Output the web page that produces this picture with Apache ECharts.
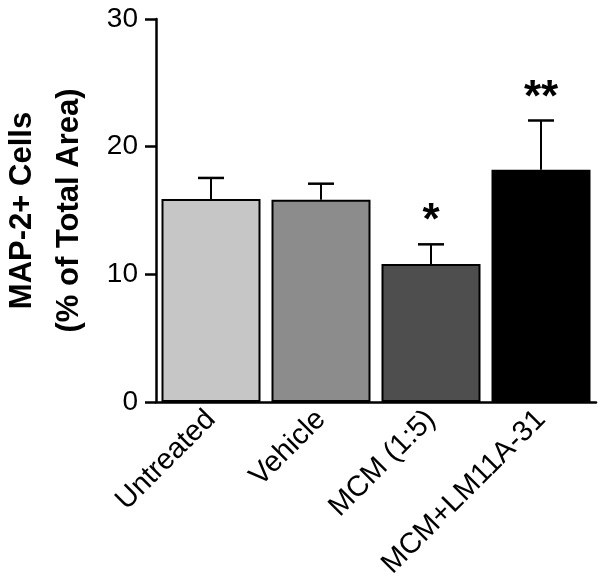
<!DOCTYPE html>
<html>
<head>
<meta charset="utf-8">
<script src="https://cdn.jsdelivr.net/npm/echarts@6/dist/echarts.min.js"></script>
<style>
  html, body { margin: 0; padding: 0; background: #fff; }
  #chart { width: 604px; height: 578px; }
</style>
</head>
<body>
<div id="chart"></div>
<script>
// 数据
const categories = ['Untreated', 'Vehicle', 'MCM (1:5)', 'MCM+LM11A-31'];
const means = [15.9, 15.85, 10.8, 18.2];
const errors = [1.65, 1.25, 1.55, 3.85];
const stars = ['', '', '*', '**'];
const barColors = ['#c6c6c6', '#8c8c8c', '#4e4e4e', '#000000'];
const yTicks = [0, 10, 20, 30];

document.addEventListener('DOMContentLoaded', function() {
    const chart = echarts.init(document.getElementById('chart'));
    const font = 'Liberation Sans, Arial, sans-serif';

    chart.setOption({
        animation: false,
        grid: {
            left: 156,
            right: 8,
            top: 19,
            bottom: 176,
            containLabel: false,
            outerBoundsMode: 'none'
        },
        xAxis: {
            type: 'category',
            data: categories,
            axisLine: { lineStyle: { color: '#000', width: 2.5 } },
            axisTick: { show: false },
            axisLabel: {
                rotate: 45,
                interval: 0,
                margin: 13,
                fontSize: 29,
                color: '#000',
                fontFamily: font
            }
        },
        yAxis: {
            type: 'value',
            min: yTicks[0],
            max: yTicks[yTicks.length - 1],
            interval: 10,
            name: 'MAP-2+ Cells\n(% of Total Area)',
            nameLocation: 'middle',
            nameGap: 63,
            nameTextStyle: {
                fontSize: 31,
                fontWeight: 'bold',
                color: '#000',
                fontFamily: font,
                lineHeight: 47
            },
            axisLine: { show: true, lineStyle: { color: '#000', width: 2.5 } },
            axisTick: { show: true, length: 11, lineStyle: { color: '#000', width: 2.5 } },
            splitLine: { show: false },
            axisLabel: {
                margin: 18,
                fontSize: 28,
                color: '#000',
                fontFamily: font
            }
        },
        series: [{
            type: 'bar',
            barWidth: '90%',
            data: means.map(function(v, i) {
                return {
                    value: v,
                    itemStyle: { color: barColors[i], borderColor: '#000', borderWidth: 2 }
                };
            }),
            z: 2
        }, {
            // 误差线和显著性标记
            type: 'custom',
            data: means.map(function(v, i) { return [i, v, errors[i]]; }),
            renderItem: function(params, api) {
                const i = api.value(0);
                const base = api.coord([i, api.value(1)]);
                const top = api.coord([i, api.value(1) + api.value(2)]);
                const half = 13;
                const children = [{
                    type: 'line',
                    shape: { x1: base[0], y1: base[1], x2: top[0], y2: top[1] },
                    style: { stroke: '#000', lineWidth: 2 }
                }, {
                    type: 'line',
                    shape: { x1: top[0] - half, y1: top[1], x2: top[0] + half, y2: top[1] },
                    style: { stroke: '#000', lineWidth: 2.5 }
                }];
                if (stars[i]) {
                    children.push({
                        type: 'text',
                        style: {
                            text: stars[i],
                            x: top[0],
                            y: top[1],
                            align: 'center',
                            verticalAlign: 'bottom',
                            fontSize: 44,
                            fontWeight: 'bold',
                            fontFamily: font,
                            fill: '#000'
                        }
                    });
                }
                return { type: 'group', children: children };
            },
            z: 3
        }]
    });

    window.addEventListener('resize', function() {
        chart.resize();
    });
});
</script>
</body>
</html>
